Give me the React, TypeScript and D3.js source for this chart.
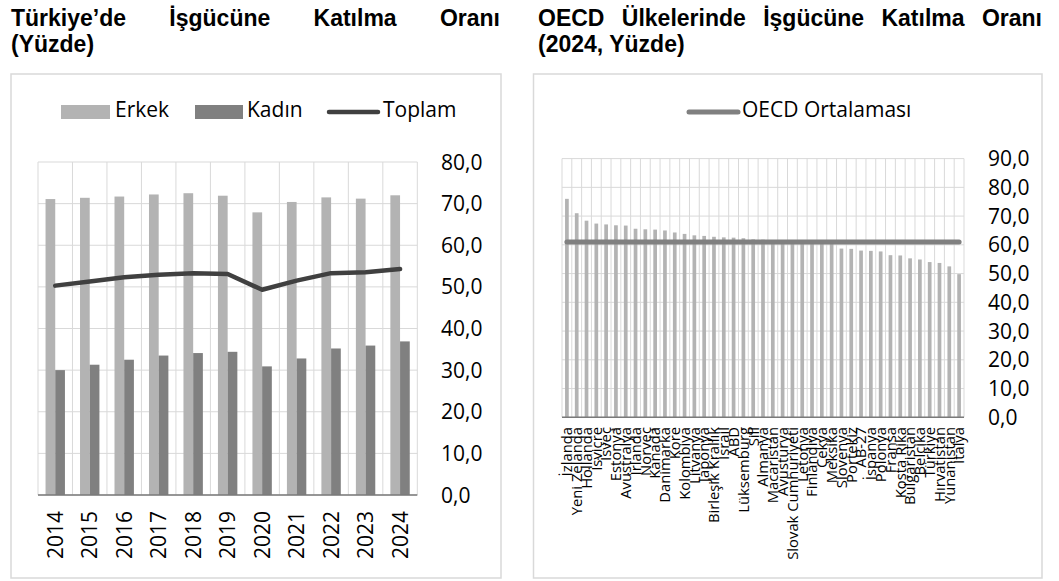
import React, { useLayoutEffect, useRef, useState } from "react";
import * as d3 from "d3";

// ---------- DATA ----------
const years = ["2014", "2015", "2016", "2017", "2018", "2019", "2020", "2021", "2022", "2023", "2024"];
const erkek = [71.1, 71.4, 71.7, 72.2, 72.5, 71.9, 67.9, 70.4, 71.5, 71.2, 72.0];
const kadin = [30.0, 31.3, 32.5, 33.5, 34.1, 34.4, 30.9, 32.8, 35.2, 35.9, 36.9];
const toplam = [50.3, 51.3, 52.3, 52.9, 53.3, 53.1, 49.3, 51.5, 53.3, 53.5, 54.3];
const leftTicks = [0, 10, 20, 30, 40, 50, 60, 70, 80];

const countries = [
  "İzlanda", "Yeni Zelanda", "Hollanda", "İsviçre", "İsveç", "Estonya", "Avustralya", "İrlanda",
  "Norveç", "Kanada", "Danimarka", "Kore", "Kolombiya", "Litvanya", "Japonya", "Birleşik Krallık",
  "İsrail", "ABD", "Lüksemburg", "Şili", "Almanya", "Macaristan", "Avusturya", "Slovak Cumhuriyeti",
  "Letonya", "Finlandiya", "Çekya", "Meksika", "Slovenya", "Portekiz", "AB-27", "İspanya",
  "Polonya", "Fransa", "Kosta Rika", "Bulgaristan", "Belçika", "Türkiye", "Hırvatistan", "Yunanistan", "İtalya",
];
const countryValues = [
  76.0, 71.0, 68.4, 67.4, 67.1, 66.8, 66.7, 65.6, 65.4, 65.3, 65.0, 64.3, 63.8, 63.3, 63.1, 62.8,
  62.6, 62.5, 62.3, 61.9, 61.8, 61.6, 61.5, 61.3, 61.2, 61.1, 60.9, 60.6, 58.7, 58.6, 58.0, 57.9,
  57.7, 56.4, 56.3, 55.3, 54.9, 54.0, 53.7, 52.5, 49.8,
];
const oecdAverage = 61.0;
const rightTicks = [0, 10, 20, 30, 40, 50, 60, 70, 80, 90];

const fmt = (v: number) => v.toFixed(1).replace(".", ",");

const FONT = "'Open Sans', 'DejaVu Sans', sans-serif";
const TITLE_FONT = "'Liberation Sans', Arial, sans-serif";
const TITLE_SIZE = 23;
const GRID = "#d9d9d9";
const C_ERKEK = "#b3b3b3";
const C_KADIN = "#808080";
const C_TOPLAM = "#404040";

function JustifiedLine({ words, x0, x1, y }: { words: string[]; x0: number; x1: number; y: number }) {
  const refs = useRef<(SVGTextElement | null)[]>([]);
  const [xs, setXs] = useState<number[] | null>(null);
  useLayoutEffect(() => {
    const widths = refs.current.map((r) => (r ? r.getComputedTextLength() : 0));
    const total = widths.reduce((a, b) => a + b, 0);
    const gap = (x1 - x0 - total) / (words.length - 1);
    const out: number[] = [];
    let x = x0;
    widths.forEach((w) => {
      out.push(x);
      x += w + gap;
    });
    setXs(out);
  }, []);
  return (
    <g>
      {words.map((w, i) => (
        <text
          key={i}
          ref={(el) => {
            refs.current[i] = el;
          }}
          x={xs ? xs[i] : x0}
          y={y}
          fontFamily={TITLE_FONT}
          fontWeight="bold"
          fontSize={TITLE_SIZE}
          fill="#000"
        >
          {w}
        </text>
      ))}
    </g>
  );
}

function LeftChart() {
  const x = d3.scaleBand<string>().domain(years).range([38, 417.3]).padding(0);
  const y = d3.scaleLinear().domain([0, 80]).range([495, 162]);
  const barW = 9.7;
  const line = d3
    .line<number>()
    .x((_, i) => (x(years[i]) as number) + x.bandwidth() / 2)
    .y((d) => y(d));
  const bounds = years.map((yr) => x(yr) as number).concat([417.3]);
  return (
    <g>
      <rect x={11} y={74} width={490} height={504} fill="#fff" stroke={GRID} strokeWidth={1.5} />
      {leftTicks.map((t) => (
        <line key={"h" + t} x1={38} x2={417.3} y1={y(t)} y2={y(t)} stroke={GRID} strokeWidth={1} />
      ))}
      {bounds.map((b, i) => (
        <line key={"v" + i} x1={b} x2={b} y1={y(80)} y2={y(0)} stroke={GRID} strokeWidth={1} />
      ))}
      {years.map((yr, i) => {
        const c = (x(yr) as number) + x.bandwidth() / 2;
        return (
          <g key={yr}>
            <rect x={c - barW} y={y(erkek[i])} width={barW} height={y(0) - y(erkek[i])} fill={C_ERKEK} />
            <rect x={c} y={y(kadin[i])} width={barW} height={y(0) - y(kadin[i])} fill={C_KADIN} />
          </g>
        );
      })}
      <line x1={38} x2={417.3} y1={y(0)} y2={y(0)} stroke="#7a7a7a" strokeWidth={1.5} />
      <path
        d={line(toplam) as string}
        fill="none"
        stroke={C_TOPLAM}
        strokeWidth={4.5}
        strokeLinejoin="round"
        strokeLinecap="round"
      />
      {leftTicks.map((t) => (
        <text key={"l" + t} x={441} y={y(t) + 7.5} fontFamily={FONT} fontSize={21} fill="#000">
          {fmt(t)}
        </text>
      ))}
      {years.map((yr) => {
        const c = (x(yr) as number) + x.bandwidth() / 2;
        return (
          <text
            key={"x" + yr}
            transform={`translate(${c},511) rotate(-90)`}
            textAnchor="end"
            dy="0.36em"
            fontFamily={FONT}
            fontSize={21}
            fill="#000"
          >
            {yr}
          </text>
        );
      })}
      {/* legend */}
      <rect x={61} y={105} width={49} height={14} fill={C_ERKEK} />
      <text x={115} y={117} fontFamily={FONT} fontSize={21} fill="#000">Erkek</text>
      <rect x={195} y={105} width={48} height={14} fill={C_KADIN} />
      <text x={247} y={117} fontFamily={FONT} fontSize={21} fill="#000">Kadın</text>
      <line x1={329} x2={378} y1={112} y2={112} stroke={C_TOPLAM} strokeWidth={4.5} strokeLinecap="round" />
      <text x={383} y={117} fontFamily={FONT} fontSize={21} fill="#000">Toplam</text>
    </g>
  );
}

function RightChart() {
  const x = d3.scaleBand<string>().domain(countries).range([562, 964]).padding(0);
  const y = d3.scaleLinear().domain([0, 90]).range([417.3, 158.6]);
  const barW = 3.7;
  const bounds = countries.map((c) => x(c) as number).concat([964]);
  const first = (x(countries[0]) as number) + x.bandwidth() / 2;
  const last = (x(countries[countries.length - 1]) as number) + x.bandwidth() / 2;
  return (
    <g>
      <rect x={533.5} y={74} width={508.5} height={504} fill="#fff" stroke={GRID} strokeWidth={1.5} />
      {rightTicks.map((t) => (
        <line key={"h" + t} x1={562} x2={964} y1={y(t)} y2={y(t)} stroke={GRID} strokeWidth={1} />
      ))}
      {bounds.map((b, i) => (
        <line key={"v" + i} x1={b} x2={b} y1={y(90)} y2={y(0)} stroke={GRID} strokeWidth={1} />
      ))}
      {countries.map((c, i) => {
        const cx = (x(c) as number) + x.bandwidth() / 2;
        return (
          <rect
            key={c}
            x={cx - barW / 2}
            y={y(countryValues[i])}
            width={barW}
            height={y(0) - y(countryValues[i])}
            fill={C_ERKEK}
          />
        );
      })}
      <line x1={562} x2={964} y1={y(0)} y2={y(0)} stroke="#7a7a7a" strokeWidth={1.5} />
      <line
        x1={first}
        x2={last}
        y1={y(oecdAverage)}
        y2={y(oecdAverage)}
        stroke={C_KADIN}
        strokeWidth={5}
        strokeLinecap="round"
      />
      {rightTicks.map((t) => (
        <text key={"l" + t} x={988} y={y(t) + 7.5} fontFamily={FONT} fontSize={21} fill="#000">
          {fmt(t)}
        </text>
      ))}
      {countries.map((c) => {
        const cx = (x(c) as number) + x.bandwidth() / 2;
        return (
          <text
            key={"x" + c}
            transform={`translate(${cx},427) rotate(-90)`}
            textAnchor="end"
            dy="0.36em"
            fontFamily={FONT}
            fontSize={14.8}
            fill="#000"
          >
            {c}
          </text>
        );
      })}
      {/* legend */}
      <line x1={689} x2={738} y1={112} y2={112} stroke={C_KADIN} strokeWidth={5} strokeLinecap="round" />
      <text x={742} y={117} fontFamily={FONT} fontSize={21} fill="#000">OECD Ortalaması</text>
    </g>
  );
}

export default function App() {
  return (
    <svg
      width={1059}
      height={581}
      style={{ position: "absolute", left: 0, top: 0, display: "block", background: "#fff" }}
    >
      <rect x={0} y={0} width={1059} height={581} fill="#fff" />
      <JustifiedLine words={["Türkiye’de", "İşgücüne", "Katılma", "Oranı"]} x0={11} x1={500} y={26} />
      <text x={11} y={51.5} fontFamily={TITLE_FONT} fontWeight="bold" fontSize={TITLE_SIZE} fill="#000">(Yüzde)</text>
      <JustifiedLine words={["OECD", "Ülkelerinde", "İşgücüne", "Katılma", "Oranı"]} x0={538} x1={1042} y={26} />
      <text x={538} y={51.5} fontFamily={TITLE_FONT} fontWeight="bold" fontSize={TITLE_SIZE} fill="#000">(2024, Yüzde)</text>
      <LeftChart />
      <RightChart />
    </svg>
  );
}
